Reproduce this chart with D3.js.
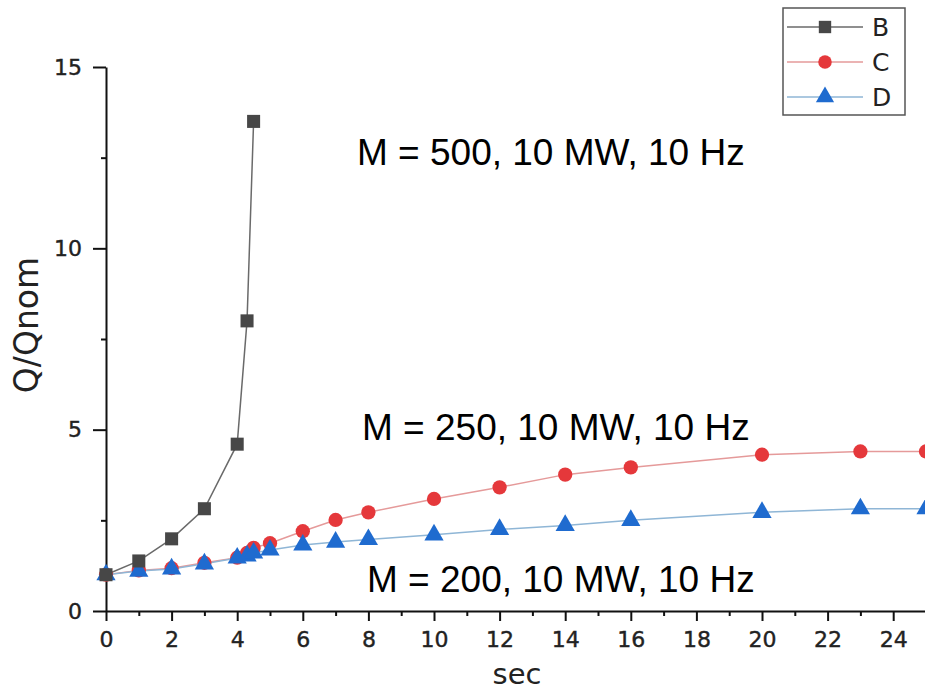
<!DOCTYPE html>
<html>
<head>
<meta charset="utf-8">
<script src="https://cdn.jsdelivr.net/npm/d3@7"></script>
<style>
  body { margin: 0; background: #fff; }
  svg { display: block; }
  .axis text { font-family: "DejaVu Sans", sans-serif; fill: #222; }
  .note { font-family: "Liberation Sans", Arial, sans-serif; font-size: 37px; fill: #000; }
</style>
</head>
<body>
<div id="chart"></div>
<script>
// Q/Qnom vs time, three cases
const secB = [0, 1, 2, 3, 4, 4.3, 4.5];
const qB   = [1.0, 1.38, 1.99, 2.82, 4.6, 8.0, 13.5];

const secCD = [0, 1, 2, 3, 4, 4.3, 4.5, 5, 6, 7, 8, 10, 12, 14, 16, 20, 23, 25];
const qC    = [1.0, 1.12, 1.18, 1.33, 1.47, 1.6, 1.74, 1.87, 2.2, 2.51, 2.72, 3.09, 3.41, 3.76, 3.96, 4.31, 4.4, 4.4];
const qD    = [1.0, 1.1, 1.16, 1.3, 1.46, 1.52, 1.6, 1.68, 1.82, 1.9, 1.97, 2.1, 2.25, 2.36, 2.5, 2.72, 2.82, 2.82];

const seriesNames = ["B", "C", "D"];
const xTicks = d3.range(0, 25, 2);
const yTicks = [0, 5, 10, 15];
const notes = ["M = 500, 10 MW, 10 Hz", "M = 250, 10 MW, 10 Hz", "M = 200, 10 MW, 10 Hz"];

const W = 925, H = 693;
const svg = d3.select("#chart").append("svg").attr("width", W).attr("height", H);

// axes run off the right edge in the original
const x = d3.scaleLinear().domain([0, 26]).range([106, 958.8]);
const y = d3.scaleLinear().domain([0, 15]).range([611, 67]);

const style = {
  B: { line: "#6a6a6a", fill: "#474747", shape: d3.symbolSquare, size: 170 },
  C: { line: "#e59a9a", fill: "#e5383b", shape: d3.symbolCircle, size: 160 },
  D: { line: "#8fb6d6", fill: "#1f6bcf", shape: d3.symbolTriangle, size: 160 },
};

const data = {
  B: secB.map((s, i) => [s, qB[i]]),
  C: secCD.map((s, i) => [s, qC[i]]),
  D: secCD.map((s, i) => [s, qD[i]]),
};

// minor ticks
svg.append("g")
  .attr("transform", `translate(0,${y(0)})`)
  .call(d3.axisBottom(x).tickValues(d3.range(1, 26, 2)).tickSize(5).tickFormat(""))
  .call(g => g.select(".domain").remove())
  .call(g => g.selectAll("line").attr("stroke", "#111").attr("stroke-width", 2));
svg.append("g")
  .attr("transform", `translate(${x(0)},0)`)
  .call(d3.axisLeft(y).tickValues([2.5, 7.5, 12.5]).tickSize(5).tickFormat(""))
  .call(g => g.select(".domain").remove())
  .call(g => g.selectAll("line").attr("stroke", "#111").attr("stroke-width", 2));

svg.append("g").attr("class", "axis")
  .attr("transform", `translate(0,${y(0)})`)
  .call(d3.axisBottom(x).tickValues(xTicks).tickSize(10).tickSizeOuter(0).tickPadding(10))
  .call(g => g.select(".domain").attr("stroke", "#111").attr("stroke-width", 2))
  .call(g => g.selectAll(".tick line").attr("stroke", "#111").attr("stroke-width", 2))
  .call(g => g.selectAll("text").attr("font-size", 22)
    .attr("stroke", "#222").attr("stroke-width", 0.4));

svg.append("g").attr("class", "axis")
  .attr("transform", `translate(${x(0)},0)`)
  .call(d3.axisLeft(y).tickValues(yTicks).tickSize(13).tickSizeOuter(0).tickPadding(11))
  .call(g => g.select(".domain").attr("stroke", "#111").attr("stroke-width", 2))
  .call(g => g.selectAll(".tick line").attr("stroke", "#111").attr("stroke-width", 2))
  .call(g => g.selectAll("text").attr("font-size", 22)
    .attr("stroke", "#222").attr("stroke-width", 0.4));

svg.append("text")
  .attr("x", 517).attr("y", 684)
  .attr("text-anchor", "middle")
  .attr("font-family", "DejaVu Sans, sans-serif").attr("font-size", 29).attr("fill", "#222")
  .text("sec");

svg.append("text")
  .attr("transform", "translate(38,325) rotate(-90)")
  .attr("text-anchor", "middle")
  .attr("font-family", "DejaVu Sans, sans-serif").attr("font-size", 33).attr("fill", "#222")
  .text("Q/Qnom");

const line = d3.line().x(d => x(d[0])).y(d => y(d[1]));

seriesNames.forEach(name => {
  const st = style[name];
  svg.append("path")
    .datum(data[name])
    .attr("d", line)
    .attr("fill", "none")
    .attr("stroke", st.line)
    .attr("stroke-width", 1.5);
});

// C first then D so triangles sit over circles, B on top
["C", "D", "B"].forEach(name => {
  const st = style[name];
  svg.append("g").selectAll("path")
    .data(data[name])
    .join("path")
    .attr("transform", d => `translate(${x(d[0])},${y(d[1])})`)
    .attr("d", d3.symbol().type(st.shape).size(st.size))
    .attr("fill", st.fill);
});

// annotations
const notePos = [[357, 165], [362, 440], [367, 592]];
svg.selectAll("text.note").data(notes).join("text")
  .attr("class", "note")
  .attr("x", (d, i) => notePos[i][0])
  .attr("y", (d, i) => notePos[i][1])
  .text(d => d);

// legend
const lg = svg.append("g");
lg.append("rect").attr("x", 783).attr("y", 8).attr("width", 122).attr("height", 107)
  .attr("fill", "#fff").attr("stroke", "#555").attr("stroke-width", 1.5);
seriesNames.forEach((name, i) => {
  const st = style[name];
  const cy = 27 + i * 35;
  lg.append("line").attr("x1", 787).attr("x2", 863).attr("y1", cy).attr("y2", cy)
    .attr("stroke", st.line).attr("stroke-width", 1.5);
  lg.append("path").attr("transform", `translate(825,${cy})`)
    .attr("d", d3.symbol().type(st.shape).size(st.size * 0.9))
    .attr("fill", st.fill);
  lg.append("text").attr("x", 872).attr("y", cy).attr("dy", "0.36em")
    .attr("font-family", "DejaVu Sans, sans-serif").attr("font-size", 25).attr("fill", "#222")
    .text(name);
});
</script>
</body>
</html>
